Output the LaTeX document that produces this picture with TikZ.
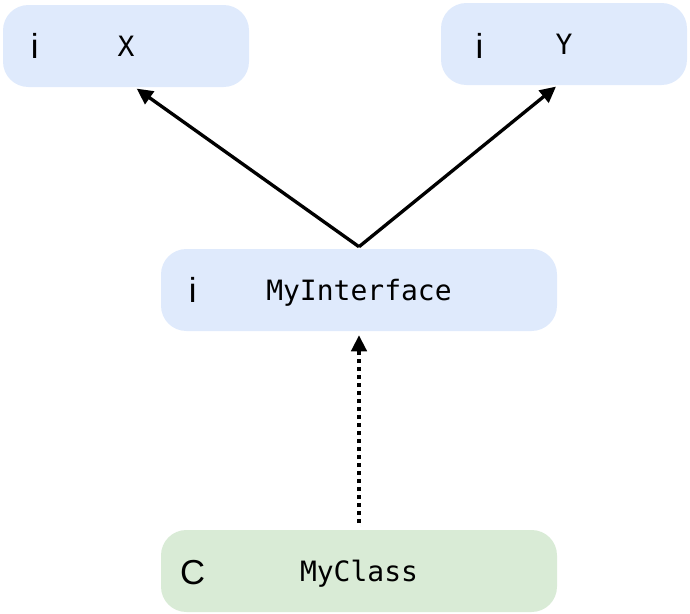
\documentclass[tikz,border=0pt]{standalone}
\usepackage{fontspec}
\setmonofont{DejaVu Sans Mono}
\setsansfont{Liberation Sans}
\usepackage{tikz}
\usetikzlibrary{positioning}
\usetikzlibrary{arrows.meta}

\definecolor{ifacefill}{HTML}{DFEAFC}
\definecolor{classfill}{HTML}{D9EBD6}

\begin{document}
\begin{tikzpicture}[x=0.75pt, y=-0.75pt,
    box/.style={rounded corners=19pt, minimum height=61.5pt,
        font=\ttfamily\fontsize{21}{25}\selectfont, inner sep=0pt,
        text height=15.3pt, text depth=0pt},
    small/.style={box, minimum width=184.5pt},
    wide/.style={box, minimum width=297pt},
    kind/.style={font=\sffamily\fontsize{26}{30}\selectfont, inner sep=0pt},
    extends/.style={line width=2.5pt, -{Triangle[length=12pt, width=11.5pt]}},
    implements/.style={extends, dash pattern=on 3pt off 3pt}]
    \useasboundingbox (0,0) rectangle (690,614);

    \node[small, fill=ifacefill] (x) at (126,46) {X};
    \node[small, fill=ifacefill] (y) at (564,44) {Y};
    \node[wide, fill=ifacefill] (iface) at (359,290) {MyInterface};
    \node[wide, fill=classfill] (cls) at (359,571) {MyClass};

    \node[kind] at ([xshift=24pt]x.west) {i};
    \node[kind] at ([xshift=29pt, yshift=-1.5pt]y.west) {i};
    \node[kind] at ([xshift=24pt]iface.west) {i};
    \node[kind] at ([xshift=24pt, yshift=-1.5pt]cls.west) {C};

    \coordinate (top) at ([yshift=1.5pt]iface.north);
    \coordinate (bot) at ([yshift=5pt]cls.north);
    \draw[extends] (top) -- ([xshift=8pt, yshift=-1pt]x.south);
    \draw[extends] (top) -- ([xshift=-6pt, yshift=-1pt]y.south);
    \draw[implements] (bot) -- ([yshift=-3pt]iface.south);
\end{tikzpicture}
\end{document}
